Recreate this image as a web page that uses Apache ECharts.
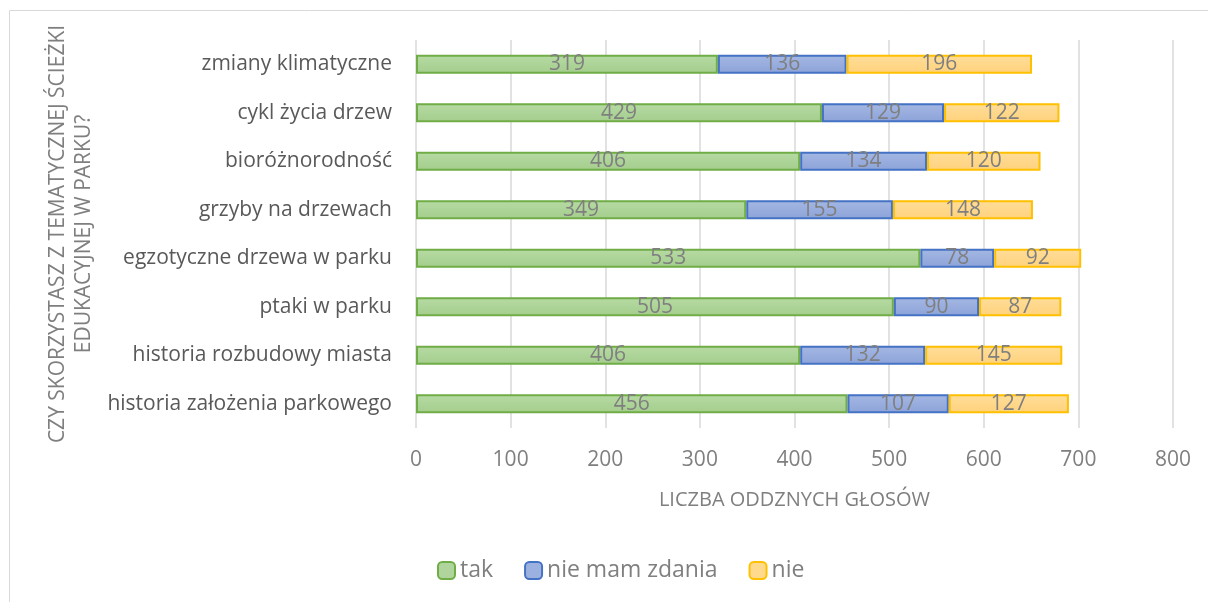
<!DOCTYPE html>
<html><head><meta charset="utf-8">
<script src="https://cdn.jsdelivr.net/npm/echarts@6/dist/echarts.min.js"></script>
<style>html,body{margin:0;padding:0;background:#fff}#c{width:1208px;height:602px}</style>
</head><body><div id="c"></div>
<script>
const categories = ['zmiany klimatyczne','cykl życia drzew','bioróżnorodność','grzyby na drzewach','egzotyczne drzewa w parku','ptaki w parku','historia rozbudowy miasta','historia założenia parkowego'];
const tak = [319,429,406,349,533,505,406,456];
const nieMam = [136,129,134,155,78,90,132,107];
const nie = [196,122,120,148,92,87,145,127];
const xTicks = [0,100,200,300,400,500,600,700,800];

const FONT = '"Open Sans", "Noto Sans", sans-serif';
function grad(a,b){return new echarts.graphic.LinearGradient(0,0,0,1,[{offset:0,color:a},{offset:1,color:b}]);}
const chart = echarts.init(document.getElementById('c'));
function ser(name,data,c1,c2,border){
  return {name,type:'bar',stack:'s',data,barWidth:19,
    itemStyle:{color:grad(c1,c2),borderColor:border,borderWidth:2},
    label:{show:true,position:'inside',color:'#7f7f7f',fontSize:21,fontFamily:FONT},
    emphasis:{disabled:true}};
}
chart.setOption({
  animation:false,
  graphic:[{type:'rect',shape:{x:9.5,y:10.5,width:1300,height:700},style:{fill:'none',stroke:'#d9d9d9',lineWidth:1}}],
  grid:{left:416,right:35,top:40,bottom:174,containLabel:false},
  legend:{bottom:15,left:432,itemWidth:17,itemHeight:17,itemGap:31,
    textStyle:{color:'#7f7f7f',fontSize:23,fontFamily:FONT},
    data:[{name:'tak',itemStyle:{color:'#b0d59c',borderColor:'#70ad47',borderWidth:2}},
          {name:'nie mam zdania',itemStyle:{color:'#9db1e0',borderColor:'#4472c4',borderWidth:2}},
          {name:'nie',itemStyle:{color:'#ffd98c',borderColor:'#ffc000',borderWidth:2}}]},
  xAxis:{type:'value',min:0,max:800,interval:100,
    name:'LICZBA ODDZNYCH GŁOSÓW',nameLocation:'middle',nameGap:62,
    nameTextStyle:{color:'#7f7f7f',fontSize:20,fontFamily:FONT},
    axisLine:{show:false},axisTick:{show:false},
    axisLabel:{color:'#7f7f7f',fontSize:21,fontFamily:FONT,margin:22,formatter:v=>xTicks.includes(v)?String(v):''},
    splitLine:{show:true,lineStyle:{color:'#d9d9d9',width:1.5}}},
  yAxis:{type:'category',data:categories,inverse:true,
    name:'CZY SKORZYSTASZ Z TEMATYCZNEJ ŚCIEŻKI\nEDUKACYJNEJ W PARKU?',nameLocation:'middle',nameGap:312,nameRotate:90,
    nameTextStyle:{color:'#7f7f7f',fontSize:21,fontFamily:FONT,lineHeight:26,align:'center'},
    axisLine:{show:false},axisTick:{show:false},
    axisLabel:{color:'#595959',fontSize:21,fontFamily:FONT,margin:24}},
  series:[
    ser('tak',tak,'#b7dba4','#a3cd8c','#70ad47'),
    ser('nie mam zdania',nieMam,'#a5b8e3','#8ca3d9','#4472c4'),
    ser('nie',nie,'#ffdd99','#ffd27c','#ffc000')
  ]
});
</script></body></html>
